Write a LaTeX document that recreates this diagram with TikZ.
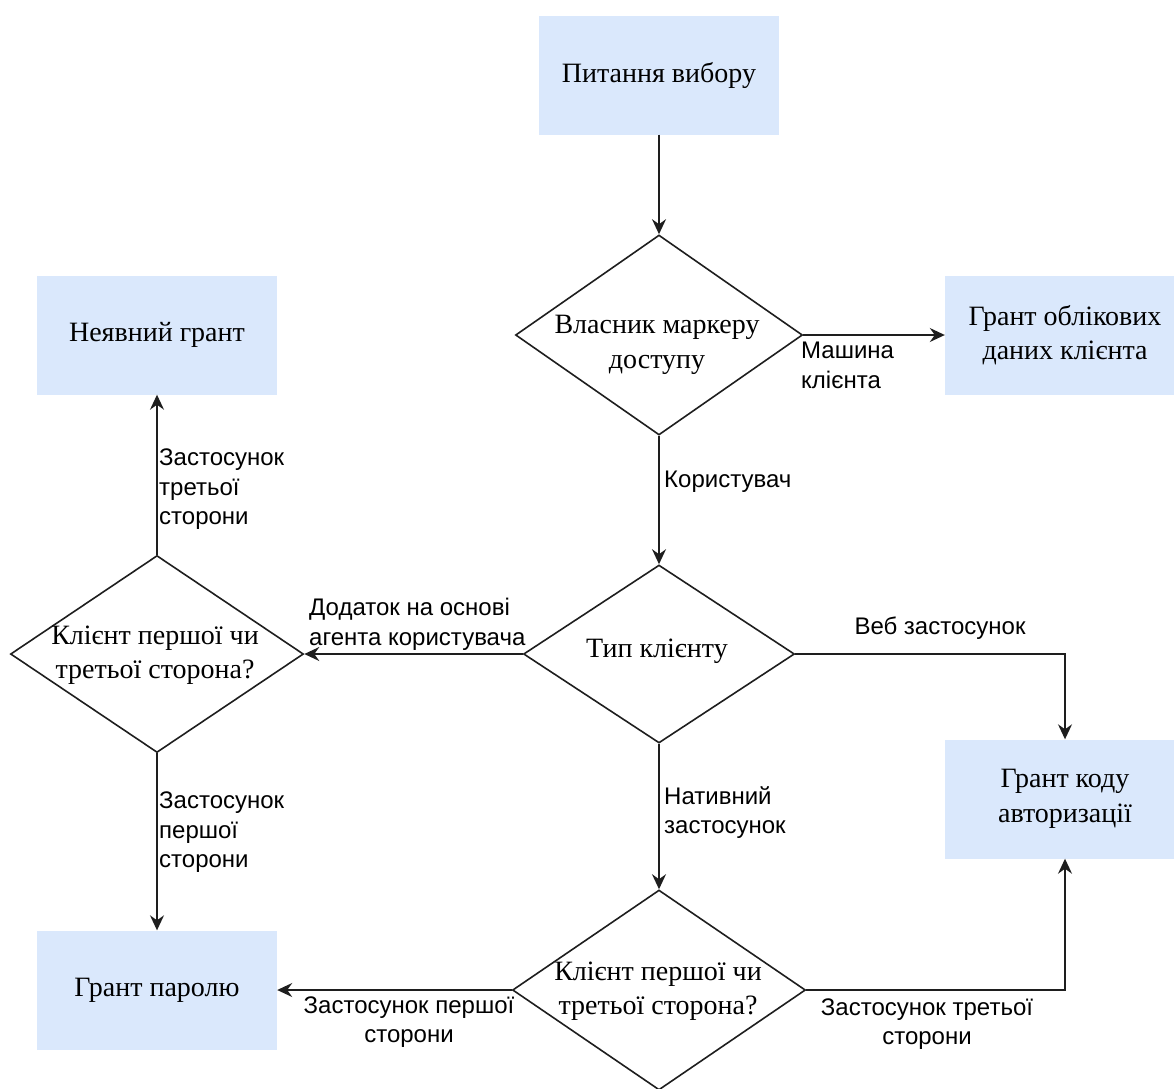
\documentclass[tikz,border=0pt]{standalone}
\usepackage{fontspec}
\setmainfont{Liberation Serif}
\newfontfamily\labfont{Liberation Sans}
\usetikzlibrary{shapes.geometric,arrows.meta}
\definecolor{boxblue}{HTML}{DAE8FC}
\definecolor{linegray}{HTML}{1E1E1E}
\begin{document}
\begin{tikzpicture}[x=1pt,y=-1pt,
  grant/.style={rectangle,fill=boxblue,draw=none,minimum width=240pt,minimum height=119pt,
    inner sep=0pt,align=center,font=\fontsize{28}{34.5}\selectfont},
  decision/.style={diamond,draw=linegray,line width=1.6pt,fill=white,inner sep=0pt},
  dtext/.style={align=center,inner sep=0pt,font=\fontsize{28}{34.5}\selectfont},
  lab/.style={inner sep=0pt,font=\labfont\fontsize{24}{29.5}\selectfont},
  flow/.style={draw=linegray,line width=1.6pt,-{Stealth[length=15pt,width=14pt,inset=5pt]}}]
\useasboundingbox (0,0) rectangle (1174,1088);
\clip (0,0) rectangle (1174,1088);

% outcome boxes
\node[grant] (q)    at (659,75)   {Питання вибору};
\node[grant] (impl) at (157,335)  {Неявний грант};
\node[grant] (cc)   at (1065,335) {Грант облікових\\даних клієнта};
\node[grant] (code) at (1065,799) {Грант коду\\авторизації};
\node[grant] (pwd)  at (157,990)  {Грант паролю};

% decisions
\node[decision,minimum width=287pt,minimum height=200pt] (owner) at (659,335) {};
\node[decision,minimum width=271pt,minimum height=178pt] (ctype) at (659,654) {};
\node[decision,minimum width=293pt,minimum height=197pt] (partyL) at (157,654) {};
\node[decision,minimum width=293pt,minimum height=200pt] (partyB) at (659,990) {};

\node[dtext] (ownerT)  at (657,345) {Власник маркеру\\доступу};
\node[dtext] (ctypeT)  at (657,651) {Тип клієнту};
\node[dtext] (partyLT) at (155,655) {Клієнт першої чи\\третьої сторона?};
\node[dtext] (partyBT) at (658,991) {Клієнт першої чи\\третьої сторона?};

% connectors
\draw[flow] (q.south) -- (owner.north);
\draw[flow] (owner.east) -- (cc.west);
\draw[flow] (owner.south) -- (ctype.north);
\draw[flow] (ctype.west) -- (partyL.east);
\draw[flow] (ctype.east) -| (code.north);
\draw[flow] (ctype.south) -- (partyB.north);
\draw[flow] (partyL.north) -- (impl.south);
\draw[flow] (partyL.south) -- (pwd.north);
\draw[flow] (partyB.west) -- (pwd.east);
\draw[flow] (partyB.east) -| (code.south);

% connector labels
\node[lab,anchor=north west,align=left] (lMach) at (801,342) {Машина\\клієнта};
\node[lab,anchor=west] (lUser) at (664,482) {Користувач};
\node[lab,anchor=north west,align=left] (lAgent) at (309,598) {Додаток на основі\\агента користувача};
\node[lab] (lWeb) at (940,628) {Веб застосунок};
\node[lab,anchor=north west,align=left] (lNat) at (664,786) {Нативний\\застосунок};
\node[lab,anchor=north west,align=left] (lThirdL) at (159,449) {Застосунок\\третьої\\сторони};
\node[lab,anchor=north west,align=left] (lFirstL) at (159,792) {Застосунок\\першої\\сторони};
\node[lab,align=center] (lFirstB) at (409,1022) {Застосунок першої\\сторони};
\node[lab,align=center] (lThirdB) at (927,1024) {Застосунок третьої\\сторони};
\end{tikzpicture}
\end{document}
